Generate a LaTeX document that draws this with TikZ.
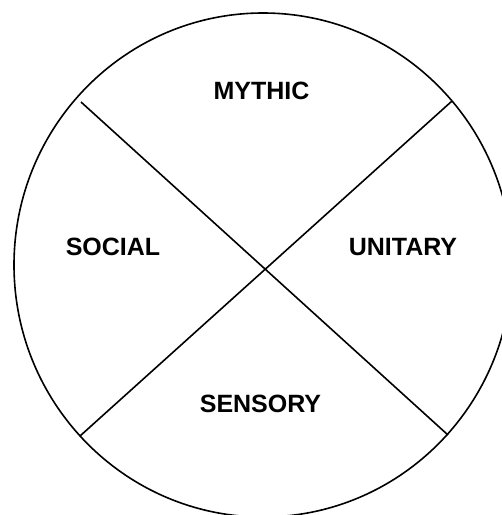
\documentclass[tikz,border=0pt]{standalone}
\usepackage{fontspec}
\setmainfont{Liberation Sans}
\begin{document}
\begin{tikzpicture}[x=1pt,y=-1pt,
  edge/.style={line width=1.6pt,black},
  lbl/.style={font=\fontsize{25}{30}\selectfont\bfseries,inner sep=0pt}]
\useasboundingbox (0,0) rectangle (502,515);
\coordinate (ul) at (81,102);
\coordinate (lr) at (448,435);
\coordinate (ur) at (452,101);
\coordinate (ll) at (80,436);
\draw[edge] (263,265) ellipse [x radius=249, y radius=252];
\draw[edge] (ul) -- (lr);
\draw[edge] (ur) -- (ll);
\node[lbl] (mythic) at (261.5,91) {MYTHIC};
\node[lbl] (social) at (113,247) {SOCIAL};
\node[lbl] (unitary) at (403,247) {UNITARY};
\node[lbl] (sensory) at (260.5,404) {SENSORY};
\end{tikzpicture}
\end{document}
